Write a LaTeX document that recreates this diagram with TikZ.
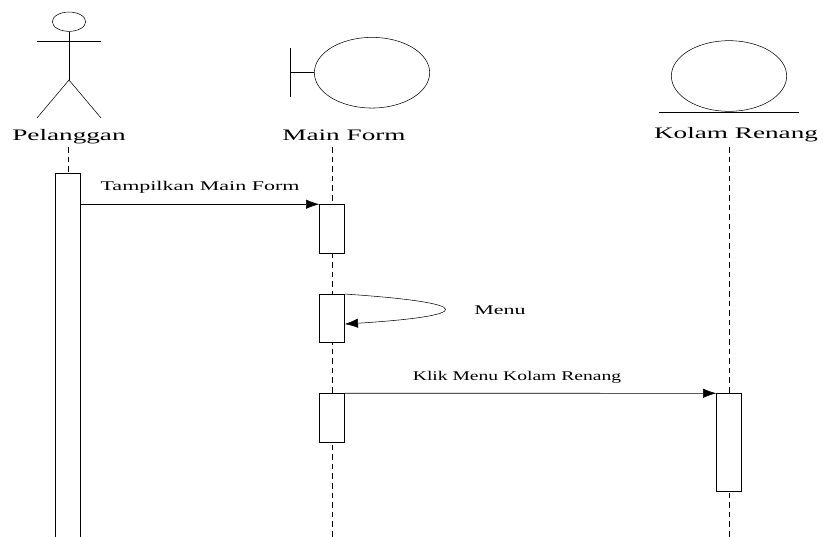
\documentclass[tikz,border=0pt]{standalone}
\usepackage{fontspec}
\setmainfont{Liberation Serif}
\usetikzlibrary{arrows.meta,calc,shapes.geometric}
\tikzset{
  x=0.75pt,y=-0.75pt,
  line width=0.75pt,
  bigname/.style={font=\fontsize{12}{12}\selectfont,xscale=1.7,transform shape,inner sep=0pt,anchor=center},
  msglabel/.style={font=\fontsize{10}{10}\selectfont,xscale=1.65,transform shape,inner sep=0pt,anchor=center},
  lifeline/.style={draw,dash pattern=on 4.2pt off 3pt},
  activation/.style={draw,fill=white,rectangle,inner sep=0pt,minimum width=18.6pt},
  message/.style={draw,-{Latex[length=10pt,width=7pt]}},
  shapeline/.style={draw,ellipse,inner sep=0pt},
}
\begin{document}
\begin{tikzpicture}
\useasboundingbox (0,0) rectangle (823,536);
% names
\node[bigname] (pel) at (69,136.5) {Pelanggan};
\node[bigname] (mf) at (344,135) {Main Form};
\node[bigname] (kr) at (736,135) {Kolam Renang};
% lifeline ends
\coordinate (ptop) at (67.8,147);
\coordinate (mtop) at (332.3,147);
\coordinate (mbot) at (332.3,537);
\coordinate (ktop) at (729,147);
\coordinate (kbot) at (729,537);
\draw[lifeline] (mtop) -- (mbot);
\draw[lifeline] (ktop) -- (kbot);
% activations
\node[activation,minimum height=276pt] (a1) at (67.8,357.7) {};
\draw[lifeline] (ptop) -- (a1.north);
\node[activation,minimum height=36.75pt] (b1) at (332,229) {};
\node[activation,minimum height=36.3pt] (b2) at (332,318.5) {};
\node[activation,minimum height=36.75pt] (b3) at (332,418) {};
\node[activation,minimum height=73.3pt] (k1) at (729,442.4) {};
% actor
\node[shapeline,minimum width=25pt,minimum height=14.5pt] (head) at (69,21.7) {};
\coordinate (hip) at (69,80);
\coordinate (armL) at (37,41);
\coordinate (armR) at (101,41);
\coordinate (legL) at (37,118);
\coordinate (legR) at (101,118);
\draw (head.south) -- (hip);
\draw (armL) -- (armR);
\draw (legL) -- (hip) -- (legR);
% boundary
\node[shapeline,minimum width=86.5pt,minimum height=53pt] (bnd) at (372,72.7) {};
\coordinate (barT) at (290,48);
\coordinate (barB) at (290,97);
\draw (barT) -- (barB);
\draw (bnd.west) -- (bnd.west -| barT);
% entity
\node[shapeline,minimum width=86.5pt,minimum height=53pt] (ent) at (729,76) {};
\coordinate (entL) at (659,112);
\coordinate (entR) at (799,112);
\draw (entL) -- (entR);
% messages
\draw[message] (a1.east |- b1.north) -- (b1.north west);
\node[msglabel] at (200,187) {Tampilkan Main Form};
\draw[message] (b2.north east) .. controls (480,303) and (474,316) .. ($(b2.north east)+(0,30)$);
\node[msglabel] at (500,310.5) {Menu};
\draw[message] (b3.north east) -- (k1.north west);
\node[msglabel,xscale=0.89] at (517,377) {Klik Menu Kolam Renang};
\end{tikzpicture}
\end{document}
